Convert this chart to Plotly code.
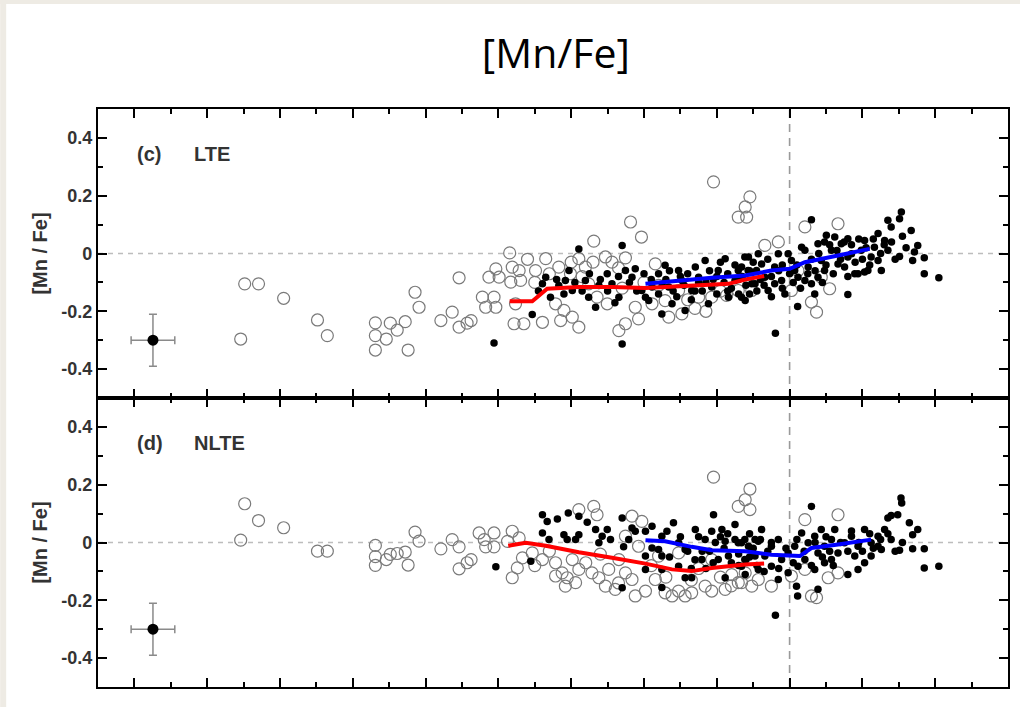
import plotly.graph_objects as go
from plotly.subplots import make_subplots

# ---------------- data (x = [Fe/H], y = [Mn/Fe]) ----------------
LTE_OPEN = [
    (-1.497, -0.105), (-1.459, -0.105), (-1.508, -0.296), (-1.390, -0.155), (-1.297, -0.230), (-1.270, -0.284),
    (-1.138, -0.240), (-1.138, -0.284), (-1.138, -0.334), (-1.108, -0.296), (-1.097, -0.241), (-1.078, -0.265),
    (-1.056, -0.236), (-1.048, -0.334), (-1.029, -0.134), (-1.018, -0.186), (-0.958, -0.232), (-0.927, -0.203),
    (-0.908, -0.084), (-0.908, -0.255), (-0.886, -0.241), (-0.875, -0.232),
    (-0.209, 0.248), (-0.109, 0.196), (-0.122, 0.161), (-0.141, 0.126), (-0.118, 0.126), (-0.437, 0.109),
    (-0.407, 0.057), (-0.538, 0.043), (-0.769, 0.002), (-0.451, -0.015), (-0.670, -0.018), (-0.579, -0.018),
    (-0.506, -0.012), (-0.807, -0.053), (-0.762, -0.047), (-0.743, -0.059), (-0.826, -0.082), (-0.798, -0.082),
    (-0.766, -0.099), (-0.739, -0.093), (-0.698, -0.059), (-0.634, -0.047), (-0.602, -0.070), (-0.561, -0.047),
    (-0.488, -0.030), (-0.844, -0.151), (-0.812, -0.151), (-0.807, -0.186), (-0.835, -0.186), (-0.753, -0.174),
    (-0.757, -0.243), (-0.730, -0.243), (-0.679, -0.238), (-0.629, -0.232), (-0.597, -0.220), (-0.579, -0.255),
    (-0.620, -0.197), (-0.643, -0.174), (-0.552, -0.105), (-0.529, -0.151), (-0.501, -0.174), (-0.469, -0.267),
    (-0.451, -0.243), (-0.415, -0.226), (-0.424, -0.186), (-0.378, -0.174), (-0.369, -0.036), (-0.342, -0.163),
    (-0.305, -0.128), (-0.332, -0.220), (-0.296, -0.209), (-0.250, -0.151), (-0.214, -0.151), (-0.173, -0.145),
    (-0.141, -0.128), (-0.104, -0.128),
    (0.042, 0.092), (0.133, 0.103), (-0.068, 0.028), (-0.031, 0.040), (0.110, -0.122), (0.060, -0.168),
    (0.074, -0.203), (0.005, -0.128), (0.023, -0.059), (0.087, -0.082),
    (-0.72, -0.02), (-0.70, -0.10), (-0.66, -0.07), (-0.60, -0.03), (-0.57, -0.08), (-0.54, -0.03),
    (-0.47, -0.05), (-0.46, -0.12), (-0.40, -0.10), (-0.36, -0.11), (-0.28, -0.16), (-0.26, -0.19),
    (-0.23, -0.20), (-0.19, -0.13),
]

LTE_FILLED = [
    (-0.812, -0.310), (-0.460, -0.313), (-0.707, -0.211), (-0.579, 0.016), (-0.460, 0.028),
    (-0.679, -0.105), (-0.670, -0.082), (-0.657, -0.151), (-0.634, -0.111), (-0.616, -0.093), (-0.606, -0.059),
    (-0.597, -0.128), (-0.561, -0.093), (-0.552, -0.151), (-0.533, -0.186), (-0.524, -0.111), (-0.501, -0.070),
    (-0.488, -0.105), (-0.469, -0.151), (-0.451, -0.059), (-0.433, -0.082), (-0.424, -0.053), (-0.406, -0.128),
    (-0.396, -0.151), (-0.387, -0.163), (-0.378, -0.116), (-0.360, -0.070), (-0.351, -0.209), (-0.342, -0.041),
    (-0.332, -0.116), (-0.323, -0.174), (-0.305, -0.059), (-0.296, -0.093), (-0.287, -0.197), (-0.269, -0.128),
    (-0.259, -0.047), (-0.250, -0.082), (-0.232, -0.024), (-0.223, -0.174), (-0.214, -0.116), (-0.196, -0.059),
    (-0.177, -0.018), (-0.168, -0.151), (-0.150, -0.093), (-0.132, -0.047), (-0.122, -0.163), (-0.113, -0.012),
    (-0.104, -0.105), (-0.091, -0.059),
    (-0.44, -0.10), (-0.42, -0.13), (-0.40, -0.07), (-0.38, -0.09), (-0.36, -0.14), (-0.34, -0.09),
    (-0.33, -0.06), (-0.31, -0.15), (-0.29, -0.11), (-0.28, -0.07), (-0.27, -0.16), (-0.25, -0.10),
    (-0.24, -0.13), (-0.22, -0.06), (-0.21, -0.09), (-0.20, -0.14), (-0.19, -0.03), (-0.18, -0.10),
    (-0.17, -0.07), (-0.16, -0.12), (-0.15, -0.04), (-0.14, -0.14), (-0.13, -0.08), (-0.12, -0.11),
    (-0.11, -0.06), (-0.10, -0.03), (-0.09, -0.13), (-0.08, -0.09), (-0.69, -0.13), (-0.64, -0.09),
    (-0.62, -0.14), (-0.59, -0.10), (-0.57, -0.13), (-0.55, -0.07), (-0.52, -0.09), (-0.50, -0.13),
    (-0.48, -0.17), (-0.47, -0.08),
    (0.060, 0.117), (0.307, 0.144), (0.302, 0.120), (0.279, 0.092), (0.270, 0.115), (0.334, 0.080),
    (0.352, 0.028), (0.343, 0.005), (0.370, -0.015), (0.338, -0.024), (0.302, -0.010), (0.252, -0.059),
    (0.370, -0.070), (0.410, -0.084), (0.160, -0.142), (0.022, -0.183), (-0.039, -0.276), (0.160, 0.051),
    (0.101, 0.063),
    (-0.123, -0.012), (-0.114, -0.059), (-0.095, -0.105), (-0.132, -0.151), (-0.077, -0.036), (-0.068, -0.082),
    (-0.059, -0.128), (-0.041, -0.047), (-0.031, -0.001), (-0.022, -0.093), (-0.013, -0.140), (0.005, -0.024),
    (0.023, -0.082), (0.042, 0.011), (0.051, -0.047), (0.060, -0.105), (0.078, 0.034), (0.087, -0.024),
    (0.096, -0.059), (0.115, 0.011), (0.133, -0.036), (0.142, 0.034), (0.160, -0.012), (0.179, -0.070),
    (0.197, 0.011), (0.206, 0.045), (0.215, -0.059), (0.224, -0.012), (0.233, 0.022), (0.243, 0.069),
    (0.261, 0.045), (0.243, -0.024), (0.270, 0.011), (0.206, -0.064), (0.188, -0.070), (0.069, -0.140),
    (0.042, -0.093), (0.033, 0.022), (0.096, 0.040), (0.124, 0.057), (-0.004, -0.001), (-0.086, -0.001),
    (-0.141, -0.059), (-0.041, -0.105), (0.014, -0.059), (0.078, -0.082), (0.151, -0.047), (0.170, -0.001),
    (-0.06, -0.02), (-0.05, -0.08), (-0.03, -0.06), (-0.02, -0.12), (0.00, -0.07), (0.01, -0.10),
    (0.02, -0.04), (0.03, -0.12), (0.05, -0.07), (0.06, -0.02), (0.07, -0.06), (0.08, 0.00),
    (0.09, -0.10), (0.10, -0.04), (0.11, 0.03), (0.12, -0.07), (0.13, 0.01), (0.14, -0.02),
    (0.15, 0.04), (0.16, -0.08), (0.17, 0.03), (0.18, -0.03), (0.19, 0.05), (0.20, -0.02),
    (0.21, 0.02), (0.22, -0.04), (0.23, 0.05), (0.25, 0.00), (0.26, 0.03), (0.28, 0.04),
    (0.29, -0.02), (0.31, 0.06), (0.32, 0.02),
    (-0.35, -0.11), (-0.32, -0.13), (-0.30, -0.08), (-0.26, -0.13), (-0.23, -0.10), (-0.20, -0.08),
    (-0.17, -0.13), (-0.14, -0.09), (-0.11, -0.14), (-0.07, -0.11), (-0.05, -0.15), (-0.02, -0.04),
]

NLTE_OPEN = [
    (-1.497, 0.134), (-1.459, 0.076), (-1.508, 0.008), (-1.390, 0.051), (-1.297, -0.030), (-1.270, -0.030),
    (-1.138, -0.010), (-1.138, -0.049), (-1.138, -0.079), (-1.108, -0.059), (-1.097, -0.041), (-1.078, -0.038),
    (-1.056, -0.033), (-1.048, -0.078), (-1.029, 0.036), (-1.018, 0.005), (-0.958, -0.022), (-0.927, 0.010),
    (-0.908, -0.015), (-0.908, -0.091), (-0.886, -0.070), (-0.875, -0.059),
    (-0.209, 0.226), (-0.109, 0.185), (-0.122, 0.148), (-0.141, 0.125), (-0.109, 0.114), (-0.538, 0.125),
    (-0.529, 0.096), (-0.579, 0.114), (-0.853, 0.033), (-0.839, 0.010), (-0.812, 0.033), (-0.812, -0.015),
    (-0.835, -0.015), (-0.762, 0.039), (-0.743, 0.016), (-0.775, 0.004), (-0.734, -0.053), (-0.748, -0.088),
    (-0.762, -0.122), (-0.707, -0.036), (-0.679, -0.059), (-0.643, -0.070), (-0.597, -0.059), (-0.579, -0.093),
    (-0.625, -0.105), (-0.643, -0.116), (-0.611, -0.122), (-0.616, -0.151), (-0.588, -0.139), (-0.543, -0.105),
    (-0.524, -0.122), (-0.497, -0.093), (-0.506, -0.151), (-0.479, -0.162), (-0.451, -0.105), (-0.433, -0.128),
    (-0.469, -0.059), (-0.433, 0.091), (-0.406, 0.073), (-0.451, 0.022), (-0.415, -0.013), (-0.424, -0.185),
    (-0.396, -0.168), (-0.369, -0.128), (-0.342, -0.174), (-0.323, -0.185), (-0.305, -0.168), (-0.287, -0.185),
    (-0.269, -0.174), (-0.232, -0.151), (-0.214, -0.168), (-0.177, -0.162), (-0.141, -0.139), (-0.104, -0.151),
    (-0.360, -0.047), (-0.305, -0.036), (-0.214, -0.059), (-0.159, -0.111), (-0.122, -0.105),
    (0.042, 0.079), (0.133, 0.096), (0.060, -0.185), (0.074, -0.191), (0.106, -0.122), (0.133, -0.105),
    (-0.132, -0.139), (-0.086, -0.128), (-0.050, -0.151), (0.005, -0.116), (0.042, -0.093),
    (-0.70, -0.08), (-0.66, -0.03), (-0.56, -0.07), (-0.52, -0.04), (-0.47, -0.14), (-0.38, -0.08),
    (-0.34, -0.12), (-0.27, -0.13), (-0.25, -0.09), (-0.19, -0.12), (-0.16, -0.15),
]

NLTE_FILLED = [
    (-0.807, -0.084),
    (-0.679, 0.096), (-0.666, 0.073), (-0.638, 0.081), (-0.608, 0.102), (-0.579, 0.091), (-0.556, 0.070),
    (-0.679, 0.033), (-0.661, 0.010), (-0.620, 0.027), (-0.611, 0.010), (-0.579, 0.027), (-0.588, 0.010),
    (-0.533, 0.045), (-0.515, 0.022), (-0.501, 0.045), (-0.492, 0.010), (-0.524, -0.001), (-0.460, 0.085),
    (-0.433, 0.050), (-0.424, 0.039), (-0.442, 0.010), (-0.456, -0.015), (-0.711, -0.065), (-0.396, 0.039),
    (-0.378, 0.056), (-0.351, 0.022), (-0.378, -0.019), (-0.396, -0.047), (-0.319, 0.068), (-0.337, 0.039),
    (-0.305, -0.001), (-0.287, -0.024), (-0.259, 0.045), (-0.209, 0.096), (-0.214, 0.039), (-0.186, 0.045),
    (-0.232, 0.010), (-0.241, -0.059), (-0.204, 0.000), (-0.177, 0.004), (-0.150, 0.062), (-0.132, -0.001),
    (-0.113, -0.013), (-0.095, 0.010), (-0.351, -0.047), (-0.351, -0.093), (-0.351, -0.156), (-0.287, -0.122),
    (-0.269, -0.122), (-0.305, -0.082), (-0.460, -0.157), (-0.396, -0.093), (-0.360, -0.024), (-0.196, -0.059),
    (-0.168, -0.047), (-0.132, -0.082), (-0.095, -0.047), (-0.177, -0.122), (-0.122, -0.111),
    (-0.28, -0.03), (-0.26, -0.06), (-0.25, 0.02), (-0.23, -0.09), (-0.22, -0.03), (-0.19, 0.02),
    (-0.18, -0.02), (-0.16, -0.07), (-0.15, 0.01), (-0.14, -0.04), (-0.12, -0.06), (-0.11, 0.03),
    (-0.10, -0.02), (-0.09, -0.08),
    (0.060, 0.125), (0.306, 0.154), (0.308, 0.137), (0.279, 0.093), (0.297, 0.096), (0.270, 0.085),
    (0.329, 0.068), (0.352, 0.045), (0.338, 0.027), (0.302, -0.027), (0.338, -0.022), (0.370, -0.022),
    (0.370, -0.088), (0.410, -0.082), (0.160, -0.111), (0.188, -0.093), (0.206, -0.070), (0.224, -0.047),
    (0.019, -0.151), (0.022, -0.185), (-0.039, -0.252), (-0.077, 0.045), (0.078, -0.162),
    (-0.141, -0.001), (-0.123, 0.010), (-0.104, -0.024), (-0.086, 0.004), (-0.068, -0.047), (-0.050, -0.013),
    (-0.031, 0.010), (-0.022, -0.059), (-0.004, -0.036), (0.014, -0.013), (0.023, -0.082), (0.033, 0.033),
    (0.051, -0.001), (0.069, 0.022), (0.078, -0.036), (0.087, 0.045), (0.096, -0.013), (0.115, 0.010),
    (0.124, 0.045), (0.133, -0.036), (0.151, -0.001), (0.170, 0.022), (0.188, -0.013), (0.206, 0.045),
    (0.224, -0.001), (0.243, 0.022), (0.252, -0.024), (0.261, 0.045), (0.279, 0.010), (0.042, -0.059),
    (0.069, -0.093), (0.096, -0.070), (-0.050, -0.082), (-0.086, -0.093), (-0.123, -0.059), (-0.004, -0.105),
    (0.115, -0.059), (0.179, -0.047), (0.243, -0.013), (-0.031, -0.128),
    (-0.06, -0.03), (-0.05, 0.00), (-0.03, -0.09), (-0.01, -0.02), (0.01, -0.07), (0.02, 0.01),
    (0.04, -0.03), (0.06, -0.08), (0.07, 0.00), (0.09, -0.05), (0.10, 0.02), (0.11, -0.03),
    (0.12, -0.08), (0.14, 0.00), (0.16, -0.03), (0.17, 0.04), (0.19, 0.00), (0.20, -0.03),
    (0.22, 0.03), (0.23, -0.02), (0.25, 0.01), (0.27, 0.03), (0.29, -0.03), (0.31, 0.00),
    (-0.33, -0.05), (-0.30, 0.02), (-0.27, -0.09), (-0.24, -0.03), (-0.21, -0.07), (-0.17, 0.03),
    (-0.14, -0.08), (-0.11, -0.05), (-0.08, 0.01), (-0.07, -0.10),
]

RED_LTE = [(-0.769, -0.165), (-0.707, -0.165), (-0.666, -0.122), (-0.579, -0.116), (-0.488, -0.116),
           (-0.396, -0.119), (-0.342, -0.116), (-0.259, -0.111), (-0.168, -0.105), (-0.122, -0.090),
           (-0.070, -0.078)]
BLUE_LTE = [(-0.396, -0.105), (-0.305, -0.093), (-0.214, -0.084), (-0.122, -0.076), (-0.050, -0.059),
            (0.000, -0.053), (0.042, -0.030), (0.133, -0.007), (0.220, 0.016)]
RED_NLTE = [(-0.773, -0.011), (-0.725, -0.001), (-0.670, -0.011), (-0.579, -0.034), (-0.488, -0.053),
            (-0.396, -0.073), (-0.323, -0.093), (-0.269, -0.099), (-0.214, -0.088), (-0.122, -0.076),
            (-0.070, -0.073)]
BLUE_NLTE = [(-0.396, 0.008), (-0.342, 0.004), (-0.269, -0.015), (-0.214, -0.027), (-0.122, -0.030),
             (-0.050, -0.042), (0.028, -0.047), (0.060, -0.019), (0.133, -0.007), (0.224, 0.010)]

ERR_POINT = (-1.749, -0.30)
ERR_DX = 0.06
ERR_DY = 0.09

PANEL_TAGS = ["(c)", "(d)"]
PANEL_LABELS = ["LTE", "NLTE"]
Y_TICKS = [-0.4, -0.2, 0.0, 0.2, 0.4]
Y_TICKTEXT = ["-0.4", "-0.2", "0", "0.2", "0.4"]
TITLE = "[Mn/Fe]"
Y_TITLE = "[Mn / Fe]"

# ---------------- figure ----------------
fig = make_subplots(rows=2, cols=1, shared_xaxes=True, vertical_spacing=0)

panels = [(LTE_OPEN, LTE_FILLED, RED_LTE, BLUE_LTE), (NLTE_OPEN, NLTE_FILLED, RED_NLTE, BLUE_NLTE)]

for i, (op, fl, red, blue) in enumerate(panels):
    row = i + 1
    fig.add_trace(go.Scatter(
        x=[p[0] for p in op], y=[p[1] for p in op], mode="markers",
        marker=dict(symbol="circle-open", size=12, color="#7a7a7a", line=dict(width=1.2)),
        showlegend=False, hoverinfo="skip"), row=row, col=1)
    fig.add_trace(go.Scatter(
        x=[p[0] for p in fl], y=[p[1] for p in fl], mode="markers",
        marker=dict(symbol="circle", size=7.5, color="black"),
        showlegend=False, hoverinfo="skip"), row=row, col=1)
    fig.add_trace(go.Scatter(
        x=[p[0] for p in red], y=[p[1] for p in red], mode="lines",
        line=dict(color="#ff0000", width=4), showlegend=False, hoverinfo="skip"), row=row, col=1)
    fig.add_trace(go.Scatter(
        x=[p[0] for p in blue], y=[p[1] for p in blue], mode="lines",
        line=dict(color="#0000ff", width=4), showlegend=False, hoverinfo="skip"), row=row, col=1)
    fig.add_trace(go.Scatter(
        x=[ERR_POINT[0]], y=[ERR_POINT[1]], mode="markers",
        marker=dict(symbol="circle", size=11, color="black"),
        error_x=dict(type="constant", value=ERR_DX, color="#8a8a8a", thickness=1.5, width=4),
        error_y=dict(type="constant", value=ERR_DY, color="#8a8a8a", thickness=1.5, width=4),
        showlegend=False, hoverinfo="skip"), row=row, col=1)

    fig.add_hline(y=0, line=dict(color="#bdbdbd", width=1.6, dash="5px,5px"), layer="below", row=row, col=1)
    fig.add_vline(x=0, line=dict(color="#9a9a9a", width=1.6, dash="8px,6px"), layer="below", row=row, col=1)

    yref = "y" if row == 1 else "y2"
    xref = "x" if row == 1 else "x2"
    fig.add_annotation(x=-1.799, y=0.343, xref=xref, yref=yref, text=PANEL_TAGS[i], showarrow=False,
                       xanchor="left", yanchor="middle",
                       font=dict(family="Liberation Sans", size=20, color="#333333", weight="bold"))
    fig.add_annotation(x=-1.642, y=0.343, xref=xref, yref=yref, text=PANEL_LABELS[i], showarrow=False,
                       xanchor="left", yanchor="middle",
                       font=dict(family="Liberation Sans", size=20, color="#333333", weight="bold"))

axis_common = dict(showline=True, linewidth=2.2, linecolor="black", mirror="allticks",
                   ticks="inside", ticklen=9, tickwidth=2, tickcolor="black",
                   showgrid=False, zeroline=False)

fig.update_xaxes(range=[-1.9, 0.6], tick0=0, dtick=0.2, showticklabels=False,
                 minor=dict(ticks="inside", ticklen=5, tickwidth=1.5, tick0=0, dtick=0.1, tickcolor="black",
                            showgrid=False),
                 **axis_common)
fig.update_yaxes(range=[-0.5, 0.5], tickvals=Y_TICKS, ticktext=Y_TICKTEXT,
                 tickfont=dict(family="Liberation Sans", size=18, color="#333333", weight="bold"),
                 minor=dict(ticks="inside", ticklen=5, tickwidth=1.5, tick0=0, dtick=0.1, tickcolor="black",
                            showgrid=False),
                 title=dict(text=Y_TITLE, standoff=8,
                            font=dict(family="Liberation Sans", size=20, color="#333333", weight="bold")),
                 **axis_common)

# beige page border (left and top strips)
fig.add_shape(type="rect", xref="paper", yref="paper", x0=-0.1075, x1=-0.1009, y0=-0.04, y1=1.19,
              fillcolor="#eeebe4", line=dict(width=0), layer="below")
fig.add_shape(type="rect", xref="paper", yref="paper", x0=-0.1075, x1=1.02, y0=1.1817, y1=1.19,
              fillcolor="#eeebe4", line=dict(width=0), layer="below")

fig.update_layout(
    width=1020, height=707,
    margin=dict(l=98, r=10, t=109, b=20),
    paper_bgcolor="white", plot_bgcolor="white",
    title=dict(text=TITLE, x=0.545, xanchor="center", y=0.924, yanchor="middle",
               font=dict(family="Open Sans", size=41, color="black")),
    showlegend=False,
)

fig.write_html("out.html", config={"displayModeBar": False},
               post_script="document.body.style.margin='0px';")
